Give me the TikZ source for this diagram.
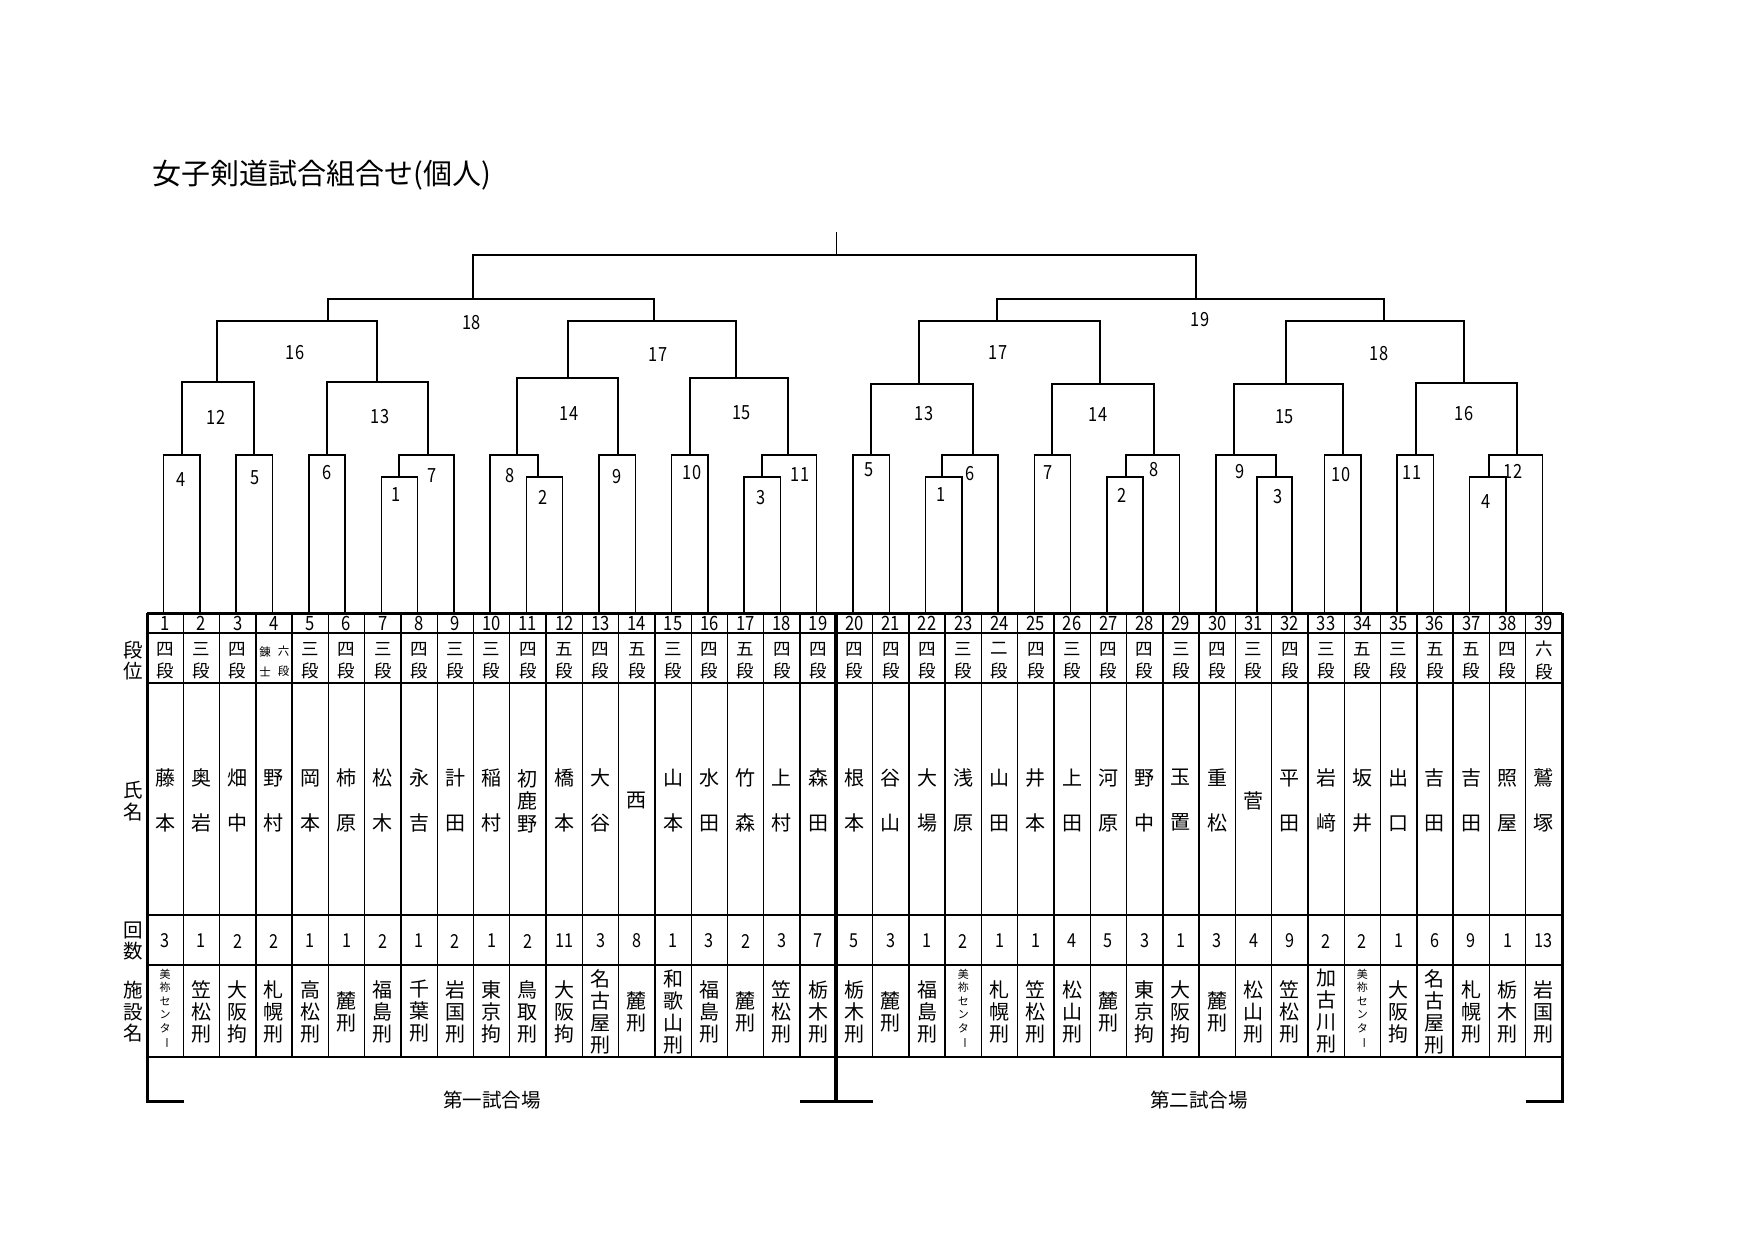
\documentclass[tikz,border=0pt]{standalone}
\usepackage{fontspec}
\setmainfont{Noto Sans CJK JP}
\newfontfamily\narf{Noto Sans CJK JP}[FakeStretch=0.84]
\begin{document}
\begin{tikzpicture}[x=0.4pt,y=-0.4pt,
  br/.style={line width=0.6pt},
  thk/.style={line width=1.2pt},
  midl/.style={line width=1.6pt},
  thn/.style={line width=0.55pt},
  blab/.style={font=\narf\fontsize{7.8}{9}\selectfont, inner sep=0pt},
  numtxt/.style={font=\narf\fontsize{7.9}{8}\selectfont, inner sep=0pt},
  dantxt/.style={font=\fontsize{7}{9}\selectfont, align=center, inner sep=0pt},
  rentxt/.style={font=\fontsize{4.6}{8}\selectfont, align=center, inner sep=0pt},
  nametxt/.style={font=\fontsize{8}{18}\selectfont, align=center, inner sep=0pt},
  kaitxt/.style={font=\narf\fontsize{7.7}{8}\selectfont, inner sep=0pt},
  factxt/.style={font=\fontsize{8}{8.8}\selectfont, align=center, inner sep=0pt},
  smalltxt/.style={font=\fontsize{4.4}{5.4}\selectfont, align=center, inner sep=0pt},
  sidetxt/.style={font=\fontsize{7.8}{8.7}\selectfont, align=center, inner sep=0pt},
  sectxt/.style={font=\fontsize{7.8}{9}\selectfont, inner sep=0pt}
]
\fill[white] (0,0) rectangle (1753,1240);
\useasboundingbox (0,0) rectangle (1753,1240);

% title
\node[anchor=west, font=\fontsize{11.6}{13}\selectfont, inner sep=0pt] (title) at (152,175) {女子剣道試合組合せ(個人)};

% ---------- table ----------
\foreach \j in {1,...,38} {
  \ifnum\j=19\else
    \draw[thn] ({147+36.28*\j},613) -- ({147+36.28*\j},1057);
  \fi
}
\foreach \yy in {633,683,915,965,1057} \draw[thn] (147,\yy) -- (1562,\yy);
\draw[thk] (147,613) -- (1562,613);
\draw[thk] (184.3,1101) -- (147,1101) -- (147,613);
\draw[thk] (1525.7,1101) -- (1562,1101) -- (1562,613);
\draw[midl] (836.3,613) -- (836.3,1101);
\draw[thk] (800,1101) -- (872.6,1101);

% side labels
\node[sidetxt] (s1) at (133,660.5) {段\\位};
\node[sidetxt] (s2) at (133,801.5) {氏\\名};
\node[sidetxt] (s3) at (133,941) {回\\数};
\node[sidetxt] (s4) at (133,1011.7) {施\\設\\名};

% column contents
\foreach \i/\dn/\nm/\kc/\fc in {
 1/{四\\段}/{藤\\本}/3/{},
 2/{三\\段}/{奥\\岩}/1/{笠\\松\\刑},
 3/{四\\段}/{畑\\中}/2/{大\\阪\\拘},
 4/{}/{野\\村}/2/{札\\幌\\刑},
 5/{三\\段}/{岡\\本}/1/{高\\松\\刑},
 6/{四\\段}/{柿\\原}/1/{麓\\刑},
 7/{三\\段}/{松\\木}/2/{福\\島\\刑},
 8/{四\\段}/{永\\吉}/1/{千\\葉\\刑},
 9/{三\\段}/{計\\田}/2/{岩\\国\\刑},
 10/{三\\段}/{稲\\村}/1/{東\\京\\拘},
 11/{四\\段}/{}/2/{鳥\\取\\刑},
 12/{五\\段}/{橋\\本}/11/{大\\阪\\拘},
 13/{四\\段}/{大\\谷}/3/{名\\古\\屋\\刑},
 14/{五\\段}/{西}/8/{麓\\刑},
 15/{三\\段}/{山\\本}/1/{和\\歌\\山\\刑},
 16/{四\\段}/{水\\田}/3/{福\\島\\刑},
 17/{五\\段}/{竹\\森}/2/{麓\\刑},
 18/{四\\段}/{上\\村}/3/{笠\\松\\刑},
 19/{四\\段}/{森\\田}/7/{栃\\木\\刑},
 20/{四\\段}/{根\\本}/5/{栃\\木\\刑},
 21/{四\\段}/{谷\\山}/3/{麓\\刑},
 22/{四\\段}/{大\\場}/1/{福\\島\\刑},
 23/{三\\段}/{浅\\原}/2/{},
 24/{二\\段}/{山\\田}/1/{札\\幌\\刑},
 25/{四\\段}/{井\\本}/1/{笠\\松\\刑},
 26/{三\\段}/{上\\田}/4/{松\\山\\刑},
 27/{四\\段}/{河\\原}/5/{麓\\刑},
 28/{四\\段}/{野\\中}/3/{東\\京\\拘},
 29/{三\\段}/{玉\\置}/1/{大\\阪\\拘},
 30/{四\\段}/{重\\松}/3/{麓\\刑},
 31/{三\\段}/{菅}/4/{松\\山\\刑},
 32/{四\\段}/{平\\田}/9/{笠\\松\\刑},
 33/{三\\段}/{岩\\﨑}/2/{加\\古\\川\\刑},
 34/{五\\段}/{坂\\井}/2/{},
 35/{三\\段}/{出\\口}/1/{大\\阪\\拘},
 36/{五\\段}/{吉\\田}/6/{名\\古\\屋\\刑},
 37/{五\\段}/{吉\\田}/9/{札\\幌\\刑},
 38/{四\\段}/{照\\屋}/1/{栃\\木\\刑},
 39/{六\\段}/{鷲\\塚}/13/{岩\\国\\刑}} {
  \pgfmathsetmacro\xc{147+36.28*(\i-0.5)}
  \node[numtxt] (num\i) at (\xc,623.5) {\i};
  \node[dantxt] (dan\i) at (\xc,660.5) {\dn};
  \node[nametxt] (name\i) at (\xc,800.5) {\nm};
  \node[kaitxt] (kai\i) at (\xc,941) {\kc};
  \node[factxt] (fac\i) at (\xc,1011.5) {\fc};
}
% special cells
\node[rentxt] (dan4a) at (265,661.5) {錬\\士};
\node[rentxt] (dan4b) at (283.5,661.5) {六\\段};
\node[font=\fontsize{8}{9}\selectfont, align=center, inner sep=0pt] (name11b) at (527.9,801) {初\\鹿\\野};
\foreach \i in {1,23,34} {
  \pgfmathsetmacro\xc{147+36.28*(\i-0.5)}
  \node[smalltxt] (mine\i) at (\xc,1009) {美\\祢\\セ\\ン\\タ\\\rotatebox[origin=c]{-90}{ー}};
}

% section labels
\node[sectxt] (sec1) at (492,1100) {第一試合場};
\node[sectxt] (sec2) at (1199,1100) {第二試合場};

% ---------- bracket ----------
\foreach \i in {1,...,39} \coordinate (L\i) at ({147+36.28*(\i-0.5)-1.5},613);
\coordinate (L31) at (1257,613);
\coordinate (L32) at (1292,613);

\foreach \n/\x/\y in {A1/399/477, A2/538/477, A3/762/477,
  A4/182/455, A5/254/455, A6/327/455, A7/428/455, A8/517/455,
  A9/618/455, A10/690/455, A11/788/455,
  A12/217/382, A13/377/382, A14/568/378, A15/736/378,
  A16/328/321, A17/654/321, A18/473/299,
  B1/942/477, B2/1126/477, B3/1276/477, B4/1489/477,
  B5/871/455, B6/973/455, B7/1052/455, B8/1154/455, B9/1234/455,
  B10/1343/455, B11/1416/455, B12/1517/455,
  B13/919/384, B14/1100/384, B15/1286/384, B16/1464/383,
  B17/997/321, B18/1384/321, B19/1196/299}
  \coordinate (\n) at (\x,\y);
\coordinate (TOP) at (836.3,255);
\coordinate (TOPEND) at (836.3,232);

\foreach \a/\l/\r in {A1/L7/L8, A2/L11/L12, A3/L17/L18,
  A4/L1/L2, A5/L3/L4, A6/L5/L6, A7/A1/L9, A8/L10/A2,
  A9/L13/L14, A10/L15/L16, A11/A3/L19,
  A12/A4/A5, A13/A6/A7, A14/A8/A9, A15/A10/A11,
  A16/A12/A13, A17/A14/A15, A18/A16/A17,
  B1/L22/L23, B2/L27/L28, B3/L31/L32, B4/L37/L38,
  B5/L20/L21, B6/B1/L24, B7/L25/L26, B8/B2/L29, B9/L30/B3,
  B10/L33/L34, B11/L35/L36, B12/B4/L39,
  B13/B5/B6, B14/B7/B8, B15/B9/B10, B16/B11/B12,
  B17/B13/B14, B18/B15/B16, B19/B17/B18}
  \draw[br] (\l) |- (\a) -| (\r);
\draw[br] (A18) |- (TOP) -| (B19);
\draw[br] (TOP) -- (TOPEND);

% bracket labels
\foreach \n/\t/\x/\y in {A4/4/181/480, A5/5/255/478, A6/6/327/473,
  A1/1/396/495, A7/7/432.5/476, A8/8/509.6/476, A2/2/543/497,
  A9/9/617.5/477, A10/10/692/473, A3/3/761/498, A11/11/800/475,
  A12/12/216/417, A13/13/380/417, A14/14/569/414, A15/15/741.5/413,
  A16/16/295/353, A17/17/658/355, A18/18/471.5/323,
  B5/5/869/470, B1/1/941.5/495, B6/6/970/474, B7/7/1048/473,
  B2/2/1122/495, B8/8/1154/470, B9/9/1240/472, B3/3/1278/497,
  B10/10/1341/475, B11/11/1412/473, B4/4/1486.5/502, B12/12/1513/471,
  B13/13/924/414, B14/14/1098/415, B15/15/1284.5/417, B16/16/1464/414,
  B17/17/998/353, B18/18/1379/354, B19/19/1200/320}
  \node[blab] (lb\n) at (\x,\y) {\t};
\end{tikzpicture}
\end{document}
